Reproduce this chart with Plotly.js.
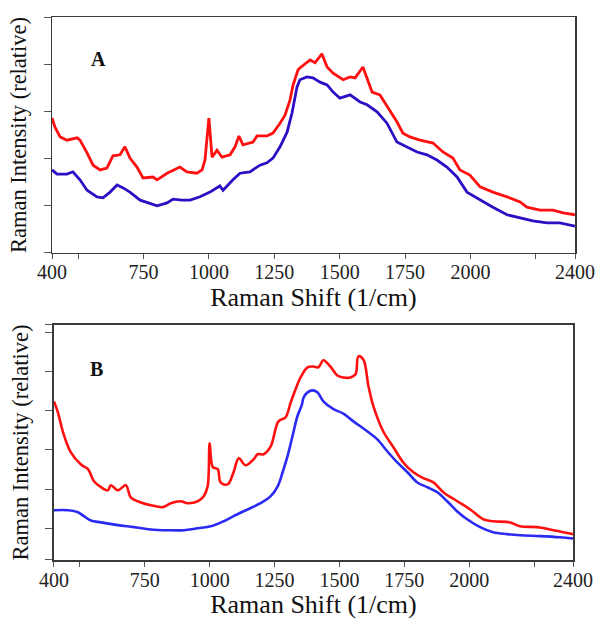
<!DOCTYPE html>
<html>
<head>
<meta charset="utf-8">
<script src="https://cdn.plot.ly/plotly-3.0.1.min.js"></script>
<style>html,body{margin:0;padding:0;background:#fff;}#chart{width:602px;height:619px;}</style>
</head>
<body>
<div id="chart"></div>
<script>
// Panel A
const shiftA_red = [400,411,431,457,496,507,534,557,584,610,633,660,679,698,725,748,786,802,840,889,916,954,974,985,1000,1012,1031,1050,1081,1100,1115,1130,1169,1184,1222,1245,1272,1291,1310,1322,1341,1348,1387,1406,1432,1452,1475,1513,1540,1559,1589,1608,1624,1654,1685,1719,1742,1769,1807,1857,1895,1933,1960,1998,2037,2086,2140,2190,2216,2266,2316,2354,2400];
const ramanA_red = [2.86,2.67,2.46,2.39,2.44,2.39,2.12,1.86,1.76,1.80,2.06,2.08,2.25,2.01,1.82,1.59,1.61,1.55,1.69,1.82,1.72,1.69,1.76,1.97,2.86,2.03,2.18,2.03,2.08,2.25,2.48,2.29,2.35,2.48,2.48,2.54,2.75,2.92,3.24,3.56,3.88,3.92,4.09,4.03,4.22,3.94,3.81,3.67,3.73,3.71,3.94,3.67,3.41,3.35,3.09,2.78,2.54,2.46,2.39,2.33,2.14,2.01,1.76,1.65,1.40,1.29,1.19,1.08,0.97,0.91,0.91,0.85,0.81];
const shiftA_blue = [400,419,457,480,507,534,572,595,622,649,672,698,737,767,802,840,863,897,928,966,1004,1042,1054,1092,1119,1157,1195,1222,1245,1272,1299,1318,1337,1348,1375,1398,1425,1452,1475,1501,1540,1578,1605,1643,1681,1719,1758,1796,1834,1872,1910,1949,1987,2037,2086,2140,2190,2239,2293,2342,2400];
const ramanA_blue = [1.76,1.67,1.67,1.72,1.55,1.33,1.19,1.17,1.29,1.44,1.38,1.29,1.12,1.06,1.00,1.06,1.14,1.12,1.12,1.19,1.29,1.42,1.33,1.55,1.69,1.72,1.86,1.91,2.01,2.25,2.56,2.97,3.52,3.67,3.73,3.71,3.62,3.56,3.41,3.28,3.35,3.20,3.14,2.99,2.75,2.35,2.25,2.14,2.08,1.97,1.82,1.61,1.29,1.12,0.97,0.81,0.74,0.68,0.64,0.64,0.57];
// Panel B
const shiftB_red = [400,415,435,465,504,531,554,581,608,619,646,677,696,735,773,819,850,888,915,954,977,992,1000,1012,1031,1042,1069,1092,1112,1138,1169,1185,1208,1235,1265,1292,1312,1331,1350,1377,1400,1419,1438,1465,1492,1515,1542,1562,1573,1592,1612,1631,1669,1708,1746,1785,1823,1862,1900,1954,2004,2054,2092,2158,2196,2262,2312,2362,2400];
const ramanB_red = [4.24,3.96,3.45,2.94,2.63,2.51,2.20,2.05,1.97,2.10,1.97,2.10,1.79,1.66,1.59,1.54,1.64,1.69,1.64,1.69,1.82,2.07,3.17,2.56,2.51,2.17,2.12,2.43,2.79,2.61,2.76,2.89,2.89,3.09,3.73,3.83,4.21,4.55,4.85,5.11,5.13,5.11,5.29,5.13,4.90,4.85,4.85,4.93,5.39,5.31,4.62,4.11,3.47,3.07,2.68,2.43,2.28,2.17,1.92,1.69,1.48,1.23,1.18,1.15,1.05,1.03,0.97,0.90,0.85];
const shiftB_blue = [400,454,492,515,542,581,646,708,773,838,900,954,1004,1054,1092,1146,1196,1235,1262,1281,1300,1319,1338,1355,1362,1377,1396,1415,1438,1477,1515,1554,1608,1646,1685,1723,1762,1800,1838,1877,1915,1954,1992,2042,2092,2146,2196,2273,2350,2400];
const ramanB_blue = [1.46,1.46,1.41,1.31,1.20,1.15,1.08,1.03,0.97,0.95,0.95,1.00,1.05,1.18,1.31,1.48,1.64,1.82,2.07,2.43,2.84,3.35,3.86,4.15,4.34,4.47,4.52,4.47,4.24,4.04,3.93,3.73,3.47,3.27,2.96,2.68,2.43,2.17,2.05,1.92,1.69,1.43,1.23,1.03,0.90,0.85,0.82,0.80,0.77,0.74];

const xTickVals = [400,500,750,1000,1250,1500,1750,2000,2250,2400];
const xTickText = ['400','','750','1000','1250','1500','1750','2000','','2400'];
const yTickValsA = [0,1,2,3,4,5];
const yTickValsB = [0.19,1,2,3,4,5,6,6.19];

const serif = 'Liberation Serif, Times New Roman, serif';
const frame = '#3a3a3a';

const traces = [
  {x: shiftA_red, y: ramanA_red, xaxis:'x', yaxis:'y', mode:'lines', line:{color:'#ff1010', width:2.8}},
  {x: shiftA_blue, y: ramanA_blue, xaxis:'x', yaxis:'y', mode:'lines', line:{color:'#2c0ec4', width:2.8}},
  {x: shiftB_red, y: ramanB_red, xaxis:'x2', yaxis:'y2', mode:'lines', line:{color:'#ff1010', width:2.6, shape:'spline'}},
  {x: shiftB_blue, y: ramanB_blue, xaxis:'x2', yaxis:'y2', mode:'lines', line:{color:'#2a2af2', width:2.6, shape:'spline'}}
];

function xaxis(domain, anchor){
  return {domain: domain, anchor: anchor, range:[400,2400], tickmode:'array', tickvals:xTickVals, ticktext:xTickText,
    ticks:'outside', ticklen:5, tickwidth:1, tickcolor:'#555', showgrid:false, zeroline:false,
    showline:true, mirror:true, linecolor:frame, linewidth:1.5,
    tickfont:{family:serif, size:20, color:'#222'}, ticklabelstandoff:-4,
    title:{text:'Raman Shift (1/cm)', font:{family:serif, size:26, color:'#111'}, standoff:0}};
}
function yaxis(domain, anchor, range, tv){
  return {domain: domain, anchor: anchor, range: range, tickmode:'array', tickvals: tv, showticklabels:false,
    ticks:'outside', ticklen:7, tickwidth:1, tickcolor:'#555', showgrid:false, zeroline:false,
    showline:true, mirror:true, linecolor:frame, linewidth:1.5,
    title:{text:'Raman Intensity (relative)', font:{family:serif, size:22.5, color:'#111'}, standoff:10}};
}

const layout = {
  width:602, height:619, showlegend:false,
  paper_bgcolor:'#fff', plot_bgcolor:'#fff',
  margin:{l:52, r:27, t:17, b:59},
  xaxis: xaxis([0,1], 'y'),
  yaxis: yaxis([0.5654,1], 'x', [0,5], yTickValsA),
  xaxis2: xaxis([0.0038,0.9962], 'y2'),
  yaxis2: yaxis([0,0.4328], 'x2', [0.19,6.19], yTickValsB),
  annotations:[
    {text:'<b>A</b>', xref:'x domain', yref:'y domain', x:0.0707, y:0.877, showarrow:false, font:{family:serif, size:20, color:'#111'}},
    {text:'<b>B</b>', xref:'x2 domain', yref:'y2 domain', x:0.0655, y:0.868, showarrow:false, font:{family:serif, size:20, color:'#111'}}
  ]
};
Plotly.newPlot('chart', traces, layout, {staticPlot:true, displayModeBar:false});
</script>
</body>
</html>
